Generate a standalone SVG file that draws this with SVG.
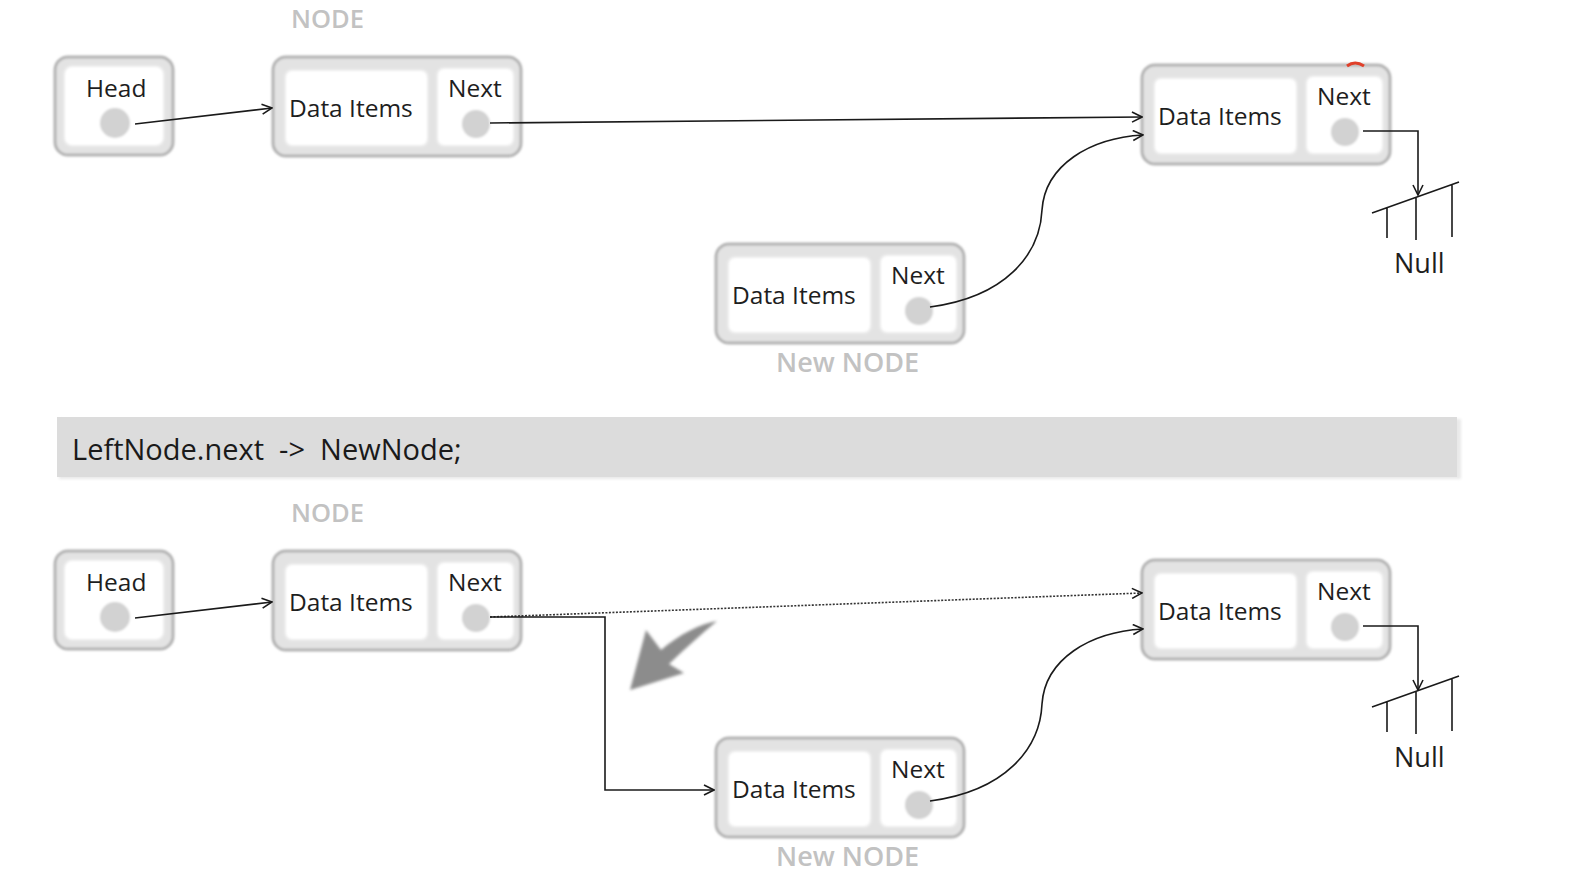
<svg xmlns="http://www.w3.org/2000/svg" width="1594" height="892" viewBox="0 0 1594 892">
  <style>
    .frame { fill: #e3e3e3; stroke: #b3b3b3; stroke-width: 3; }
    .cell { fill: #ffffff; stroke: #ececec; stroke-width: 2; }
    .dot { fill: #d2d2d2; }
    .lbl { font-family: "Open Sans", "Liberation Sans", sans-serif; font-size: 24.5px; fill: #1e1e1e; }
    .cap { font-family: "Open Sans", "Liberation Sans", sans-serif; font-size: 25.5px; font-weight: 600; fill: #c2c2c2; }
    .code { font-family: "Open Sans", "Liberation Sans", sans-serif; font-size: 29px; fill: #1a1a1a; white-space: pre; }
    .wire { fill: none; stroke: #1a1a1a; stroke-width: 1.6; }
    .dotted { fill: none; stroke: #333; stroke-width: 1.6; stroke-dasharray: 2 1.5; }
  </style>
  <defs>
    <filter id="soft" x="-5%" y="-5%" width="110%" height="110%">
      <feGaussianBlur stdDeviation="0.8"/>
    </filter>
    <filter id="haze" x="-20%" y="-20%" width="140%" height="140%">
      <feGaussianBlur stdDeviation="1.8"/>
    </filter>
    <marker id="open" viewBox="0 0 12 12" refX="11" refY="6" markerWidth="12" markerHeight="12" markerUnits="userSpaceOnUse" orient="auto">
      <path d="M1,1 L11,6 L1,11" fill="none" stroke="#1a1a1a" stroke-width="1.6"/>
    </marker>
    <!-- two-cell list node: data cell + next pointer cell -->
    <g id="listnode">
      <g filter="url(#soft)">
        <rect class="frame" x="0" y="0" width="248" height="99" rx="13"/>
        <rect class="cell" x="12" y="13" width="143" height="76" rx="7"/>
        <rect class="cell" x="164" y="11" width="77" height="78" rx="7"/>
        <circle class="dot" cx="203" cy="67" r="14"/>
      </g>
      <text class="lbl" x="16" y="60">Data Items</text>
      <text class="lbl" x="175" y="40">Next</text>
    </g>
    <g id="headnode">
      <g filter="url(#soft)">
        <rect class="frame" x="0" y="0" width="118" height="98" rx="13"/>
        <rect class="cell" x="9" y="9" width="100" height="80" rx="8"/>
        <circle class="dot" cx="60" cy="66" r="15"/>
      </g>
      <text class="lbl" x="31" y="40">Head</text>
    </g>
    <!-- null terminator -->
    <g id="ground">
      <path class="wire" d="M1372,213 L1459,182 M1387,208 V238 M1416,197 V240 M1452,185 V237"/>
      <text class="lbl" x="1394" y="273" style="font-size:27px">Null</text>
    </g>
  </defs>

  <!-- ===== before ===== -->
  <g id="top-labels">
    <text class="cap" x="291" y="28">NODE</text>
    <text class="cap" x="776" y="372" style="font-size:27px">New NODE</text>
  </g>
  <g id="head-1"><use href="#headnode" x="55" y="57"/></g>
  <g id="node-left-1"><use href="#listnode" x="273" y="57"/></g>
  <g id="node-right-1">
    <use href="#listnode" x="1142" y="65"/>
    <path d="M1347,66 Q1355,60 1364,66" fill="none" stroke="#e0402a" stroke-width="3"/>
  </g>
  <g id="node-new-1"><use href="#listnode" x="716" y="244"/></g>
  <g id="null-1"><use href="#ground"/></g>

  <g id="connectors-1">
    <path class="wire" d="M135,124 L272,108" marker-end="url(#open)"/>
    <path class="wire" d="M490,123 L1142,117" marker-end="url(#open)"/>
    <path class="wire" d="M930,307 C1005,297 1040,255 1042,210 C1045,165 1090,138 1143,135" marker-end="url(#open)"/>
    <path class="wire" d="M1363,131 H1418 V195" marker-end="url(#open)"/>
  </g>

  <!-- statement band -->
  <g id="statement">
    <rect x="59" y="419" width="1402" height="60" fill="#e9e9e9" filter="url(#haze)"/>
    <rect x="57" y="417" width="1400" height="60" fill="#dcdcdc"/>
    <text class="code" x="72" y="460" xml:space="preserve">LeftNode.next  -&gt;  NewNode;</text>
  </g>

  <!-- ===== after ===== -->
  <g id="bottom-labels">
    <text class="cap" x="291" y="522">NODE</text>
    <text class="cap" x="776" y="866" style="font-size:27px">New NODE</text>
  </g>
  <g id="head-2"><use href="#headnode" x="55" y="551"/></g>
  <g id="node-left-2"><use href="#listnode" x="273" y="551"/></g>
  <g id="node-right-2"><use href="#listnode" x="1142" y="560"/></g>
  <g id="node-new-2"><use href="#listnode" x="716" y="738"/></g>
  <g id="null-2"><use href="#ground" y="494"/></g>

  <g id="connectors-2">
    <path class="wire" d="M135,618 L272,602" marker-end="url(#open)"/>
    <path class="dotted" d="M490,617 L1142,593" marker-end="url(#open)"/>
    <path class="wire" d="M490,617 H605 V790 H714" marker-end="url(#open)"/>
    <path class="wire" d="M930,801 C1005,791 1040,749 1042,704 C1045,659 1090,632 1143,629" marker-end="url(#open)"/>
    <path class="wire" d="M1363,626 H1418 V690" marker-end="url(#open)"/>
  </g>

  <!-- gray curved hint arrow -->
  <g id="hint-arrow">
    <path d="M717,621 C700,624 680,634 661,650 L646,630 L630,690 L684,673 L669,664 C686,648 701,634 717,621 Z" fill="#8c8c8c" filter="url(#haze)"/>
  </g>
</svg>
